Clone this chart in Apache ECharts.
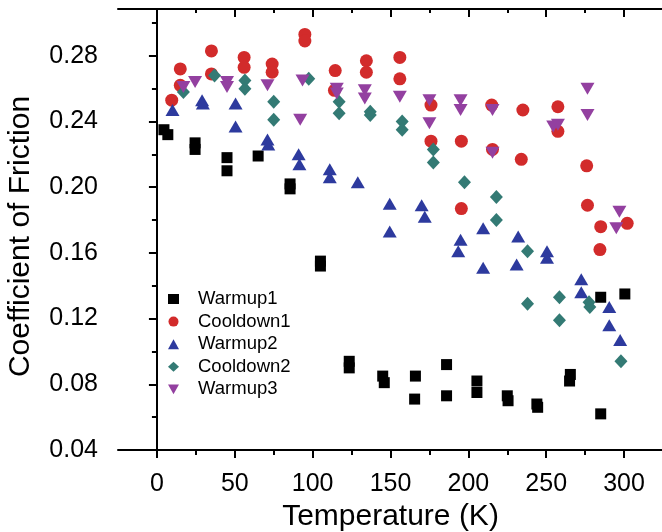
<!DOCTYPE html>
<html>
<head>
<meta charset="utf-8">
<script src="https://cdn.jsdelivr.net/npm/echarts@6/dist/echarts.min.js"></script>
<style>
  html, body { margin: 0; padding: 0; overflow: hidden; background: #fff; }
  #chart { width: 664px; height: 532px; }
</style>
</head>
<body>
<div id="chart"></div>
<script>
  // temperature (K), coefficient of friction
  var warmup1 = [
    [4.5, 0.235], [7, 0.232], [24.5, 0.227], [24.5, 0.223], [45, 0.218], [45, 0.210],
    [65, 0.219], [85.5, 0.202], [85.5, 0.199], [105, 0.155], [105, 0.152],
    [123.5, 0.094], [123.5, 0.090], [145, 0.085], [146, 0.081], [166, 0.085], [165.5, 0.071],
    [186, 0.092], [186, 0.073], [205.5, 0.082], [205.5, 0.075], [225, 0.073], [225.5, 0.070],
    [244, 0.068], [244.5, 0.066], [265.5, 0.086], [265, 0.082], [285, 0.133], [285, 0.062],
    [300.5, 0.135]
  ];
  var cooldown1 = [
    [9.5, 0.253], [15, 0.272], [15, 0.262], [35, 0.283], [35, 0.269], [56, 0.279], [56, 0.273],
    [74, 0.275], [74, 0.270], [95, 0.293], [95, 0.289], [114.5, 0.271], [114, 0.259],
    [134.5, 0.277], [134.5, 0.270], [156, 0.279], [156, 0.266], [176, 0.250], [176, 0.228],
    [195.5, 0.228], [195.5, 0.187], [215, 0.250], [215.5, 0.223], [235, 0.247], [234, 0.217],
    [257.5, 0.249], [257.5, 0.234], [276, 0.213], [276.5, 0.189], [285, 0.176], [284.5, 0.162],
    [302, 0.178]
  ];
  var warmup2 = [
    [10, 0.247], [29, 0.253], [29.5, 0.251], [50.5, 0.251], [50.5, 0.237], [71, 0.229],
    [71.5, 0.226], [91, 0.220], [91.5, 0.214], [111, 0.211], [111, 0.206], [129, 0.203],
    [149.5, 0.190], [149.5, 0.173], [170, 0.189], [172, 0.182], [195, 0.168], [193.5, 0.161],
    [209.5, 0.175], [209.5, 0.151], [232, 0.170], [231, 0.153], [250.5, 0.161], [250.5, 0.157],
    [272.5, 0.144], [272.5, 0.136], [290.5, 0.127], [290.5, 0.116], [297.5, 0.107]
  ];
  var cooldown2 = [
    [17, 0.258], [37, 0.268], [56.5, 0.265], [56.5, 0.260], [75, 0.252], [75, 0.241],
    [97.5, 0.266], [117, 0.252], [117, 0.245], [137, 0.246], [137, 0.244], [157.5, 0.240],
    [157.5, 0.235], [177.5, 0.223], [177.5, 0.215], [197.5, 0.203], [218, 0.194], [218, 0.180],
    [238, 0.161], [238, 0.129], [258.5, 0.133], [258.5, 0.119], [277.5, 0.130], [278, 0.127],
    [298, 0.094]
  ];
  var warmup3 = [
    [17, 0.261], [24.5, 0.264], [45, 0.264], [45, 0.261], [71, 0.262], [93.5, 0.265], [92, 0.241],
    [115.5, 0.260], [115.5, 0.257], [133.5, 0.259], [133.5, 0.254], [156, 0.255], [175, 0.253],
    [175, 0.239], [195, 0.253], [195, 0.247], [215.5, 0.247], [215.5, 0.221], [254.5, 0.237],
    [257.5, 0.238], [276.5, 0.260], [276.5, 0.244], [297, 0.185], [295, 0.175]
  ];

  var xMajor = [0, 50, 100, 150, 200, 250, 300];
  var xMinor = [25, 75, 125, 175, 225, 275];
  var yMajor = [0.04, 0.08, 0.12, 0.16, 0.20, 0.24, 0.28];
  var yMinor = [0.06, 0.10, 0.14, 0.18, 0.22, 0.26, 0.30];

  var font = '"Liberation Sans", Arial, sans-serif';
  var xMin = -25, xMax = 325, yMin = 0.04, yMax = 0.3085;

  function xAx(pos, ticks, len, inside, extra) {
    var a = {
      type: 'value', min: xMin, max: xMax, position: pos,
      axisLine: { show: false },
      axisTick: { show: true, inside: inside, length: len, customValues: ticks, lineStyle: { color: '#000', width: 2 } },
      axisLabel: { show: false },
      splitLine: { show: false }
    };
    return Object.assign(a, extra || {});
  }
  function yAx(pos, ticks, len, inside, extra) {
    var a = {
      type: 'value', min: yMin, max: yMax, position: pos,
      axisLine: { show: false },
      axisTick: { show: true, inside: inside, length: len, customValues: ticks, lineStyle: { color: '#000', width: 2 } },
      axisLabel: { show: false },
      splitLine: { show: false }
    };
    return Object.assign(a, extra || {});
  }

  var chart = echarts.init(document.getElementById('chart'));

  var option = {
    animation: false,
    backgroundColor: '#fff',
    grid: { left: 118, right: 1, top: 9, bottom: 82, containLabel: false, outerBoundsMode: 'none' },
    legend: {
      orient: 'vertical',
      left: 163,
      top: 284.5,
      itemWidth: 11,
      itemHeight: 10,
      itemGap: 3.6,
      textStyle: { fontSize: 18.5, color: '#000', fontFamily: font, padding: [0, 0, 0, 14] },
      data: ['Warmup1', 'Cooldown1', 'Warmup2', 'Cooldown2', 'Warmup3']
    },
    xAxis: [
      xAx('bottom', xMajor, 8, false, {
        axisLine: { show: true, lineStyle: { color: '#000', width: 2 } },
        axisLabel: { show: true, customValues: xMajor, fontSize: 25, margin: 22, color: '#000', fontFamily: font },
        name: 'Temperature (K)',
        nameLocation: 'middle',
        nameGap: 52,
        nameTextStyle: { fontSize: 30, color: '#000', fontFamily: font }
      }),
      xAx('bottom', xMinor, 5, false),
      xAx('top', xMajor, 8, true, { axisLine: { show: true, lineStyle: { color: '#000', width: 2 } } }),
      xAx('top', xMinor, 4, true)
    ],
    yAxis: [
      yAx('left', yMajor, 8, false, {
        axisLine: { show: true, lineStyle: { color: '#000', width: 2 } },
        axisLabel: {
          show: true, customValues: yMajor, fontSize: 25, margin: 20, color: '#000', fontFamily: font,
          formatter: function (v) { return v.toFixed(2); }
        },
        name: 'Coefficient of Friction',
        nameLocation: 'middle',
        nameGap: 82,
        nameTextStyle: { fontSize: 30, color: '#000', fontFamily: font, padding: [0, 14, 0, 0] }
      }),
      yAx('left', yMinor, 5, false),
      yAx('right', yMajor, 8, true, { axisLine: { show: true, lineStyle: { color: '#000', width: 2 } } }),
      yAx('right', yMinor, 5, true)
    ],
    series: [
      { name: 'Warmup1', type: 'scatter', symbol: 'rect', symbolSize: 11, itemStyle: { color: '#000000', opacity: 1 }, data: warmup1 },
      { name: 'Cooldown1', type: 'scatter', symbol: 'circle', symbolSize: 13, itemStyle: { color: '#d22b2b', opacity: 1 }, data: cooldown1 },
      { name: 'Warmup2', type: 'scatter', symbol: 'triangle', symbolSize: [14, 12], itemStyle: { color: '#2d3a9e', opacity: 1 }, data: warmup2 },
      { name: 'Cooldown2', type: 'scatter', symbol: 'diamond', symbolSize: [13, 14], itemStyle: { color: '#337a74', opacity: 1 }, data: cooldown2 },
      { name: 'Warmup3', type: 'scatter', symbol: 'path://M0,0 L10,0 L5,9 Z', symbolSize: [14, 12], itemStyle: { color: '#9340a0', opacity: 1 }, data: warmup3 }
    ]
  };

  chart.setOption(option);
</script>
</body>
</html>
